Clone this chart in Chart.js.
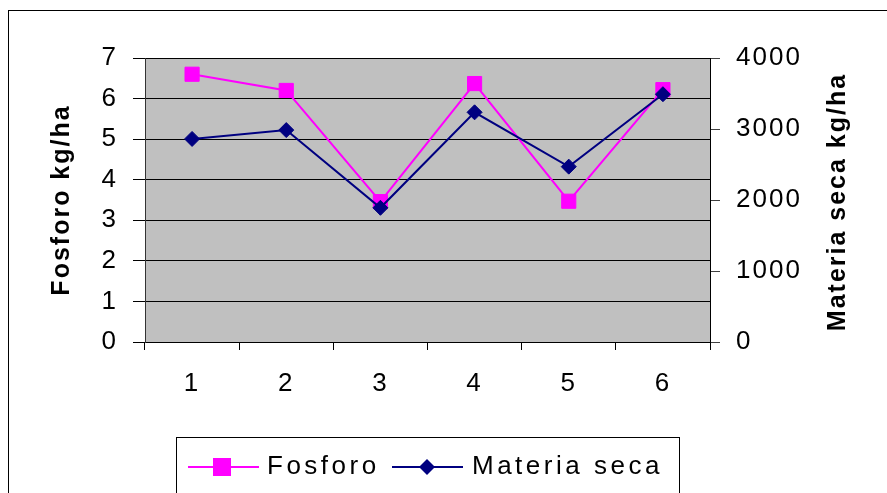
<!DOCTYPE html>
<html lang="es">
<head>
  <meta charset="UTF-8">
  <title>Fosforo y Materia seca</title>
  <script src="https://cdn.jsdelivr.net/npm/chart.js"></script>
  <style>
    body {
      margin: 0;
      background: #fff;
    }
    #wrap {
      width: 887px;
      height: 493px;
      position: relative;
    }
  </style>
</head>
<body>
  <div id="wrap">
    <canvas id="chart" width="887" height="493"></canvas>
  </div>

  <script>
    // data
    const categories = ['1', '2', '3', '4', '5', '6'];
    const fosforo = [6.6, 6.2, 3.46, 6.37, 3.47, 6.22];
    const materiaSeca = [2860, 2985, 1890, 3235, 2470, 3490];
    const leftTitle = 'Fosforo kg/ha';
    const rightTitle = 'Materia seca kg/ha';

    const FONT = "'Liberation Sans', Arial, sans-serif";

    // gray plot area, outer border, right title and legend box
    const decor = {
      id: 'decor',
      beforeDraw(chart) {
        const ctx = chart.ctx;
        const a = chart.chartArea;
        ctx.letterSpacing = '2px';
        ctx.save();
        ctx.fillStyle = '#C0C0C0';
        ctx.fillRect(a.left, a.top, a.right - a.left, a.bottom - a.top);
        ctx.restore();
      },
      afterDraw(chart) {
        const ctx = chart.ctx;
        const a = chart.chartArea;
        ctx.save();
        // outer frame
        ctx.strokeStyle = '#000';
        ctx.lineWidth = 1;
        ctx.strokeRect(8.5, 10.5, 900, 500);

        // right axis title, reading bottom to top
        ctx.fillStyle = '#000';
        ctx.font = `bold 25px ${FONT}`;
        ctx.letterSpacing = '2px';
        ctx.textAlign = 'center';
        ctx.textBaseline = 'middle';
        ctx.translate(838, (a.top + a.bottom) / 2 + 2);
        ctx.rotate(-Math.PI / 2);
        ctx.fillText(rightTitle, 0, 0);
        ctx.restore();

        // legend
        ctx.save();
        ctx.strokeStyle = '#000';
        ctx.strokeRect(176.5, 437.5, 503, 60);
        const ds = chart.data.datasets;
        const y = 467;
        ctx.font = `26px ${FONT}`;
        ctx.letterSpacing = '3.5px';
        ctx.textBaseline = 'middle';
        ctx.textAlign = 'left';

        ctx.strokeStyle = ds[0].borderColor;
        ctx.lineWidth = 2;
        ctx.beginPath();
        ctx.moveTo(188, y);
        ctx.lineTo(259, y);
        ctx.stroke();
        ctx.fillStyle = ds[0].backgroundColor;
        ctx.fillRect(213, y - 9, 18, 18);
        ctx.fillStyle = '#000';
        ctx.fillText(ds[0].label, 267, y);

        ctx.strokeStyle = ds[1].borderColor;
        ctx.beginPath();
        ctx.moveTo(392, y);
        ctx.lineTo(463, y);
        ctx.stroke();
        ctx.fillStyle = ds[1].backgroundColor;
        ctx.beginPath();
        ctx.moveTo(427 - 8, y);
        ctx.lineTo(427, y - 8);
        ctx.lineTo(427 + 8, y);
        ctx.lineTo(427, y + 8);
        ctx.closePath();
        ctx.fill();
        ctx.fillStyle = '#000';
        ctx.fillText(ds[1].label, 472, y);
        ctx.restore();
      }
    };

    const ctx = document.getElementById('chart').getContext('2d');
    const chart = new Chart(ctx, {
      type: 'line',
      data: {
        labels: categories,
        datasets: [
          {
            label: 'Fosforo',
            data: fosforo,
            yAxisID: 'y',
            borderColor: '#FF00FF',
            backgroundColor: '#FF00FF',
            borderWidth: 2,
            pointStyle: 'rect',
            pointRadius: 10,
            pointBorderWidth: 1,
            tension: 0,
            order: 1
          },
          {
            label: 'Materia seca',
            data: materiaSeca,
            yAxisID: 'y1',
            borderColor: '#000080',
            backgroundColor: '#000080',
            borderWidth: 2,
            pointStyle: 'rectRot',
            pointRadius: 7.5,
            pointBorderWidth: 1,
            tension: 0,
            order: 0
          }
        ]
      },
      options: {
        responsive: false,
        animation: false,
        layout: { padding: { top: 58, left: 0, right: 0, bottom: 90 } },
        plugins: {
          legend: { display: false },
          tooltip: { enabled: false }
        },
        scales: {
          x: {
            offset: true,
            afterFit(scale) { scale.height = 61; },
            grid: { offset: true, drawOnChartArea: false, tickLength: 8, color: '#000' },
            border: { color: '#000' },
            ticks: { color: '#000', padding: 18, font: { family: FONT, size: 26 } }
          },
          y: {
            position: 'left',
            min: 0,
            max: 7,
            afterFit(scale) { scale.width = 145; },
            grid: { color: '#000', tickLength: 12 },
            border: { color: '#333' },
            ticks: { stepSize: 1, color: '#000', padding: 15, font: { family: FONT, size: 26 } },
            title: {
              display: true,
              text: leftTitle,
              color: '#000',
              padding: { top: 47, bottom: 0 },
              font: { family: FONT, size: 25, weight: 'bold' }
            }
          },
          y1: {
            position: 'right',
            min: 0,
            max: 4000,
            afterFit(scale) { scale.width = 177; },
            grid: { drawOnChartArea: false, color: '#404040', tickLength: 10 },
            border: { color: '#000' },
            ticks: {
              stepSize: 1000,
              color: '#000',
              padding: 16,
              font: { family: FONT, size: 26 },
              callback: v => String(v)
            }
          }
        }
      },
      plugins: [decor]
    });
  </script>
</body>
</html>
